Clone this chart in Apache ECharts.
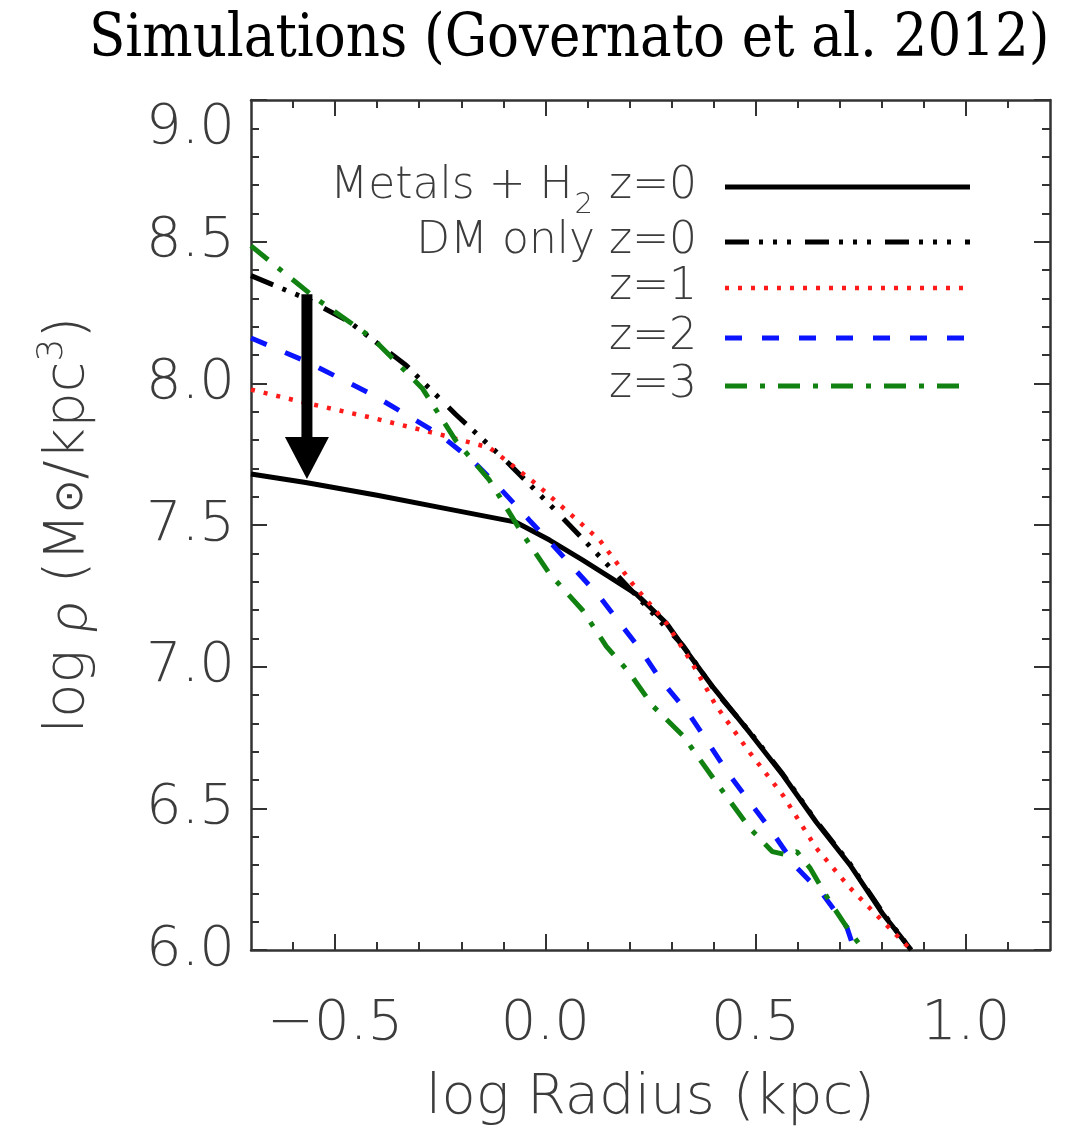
<!DOCTYPE html>
<html>
<head>
<meta charset="utf-8">
<script src="https://cdn.jsdelivr.net/npm/echarts@6/dist/echarts.min.js"></script>
<style>
  html, body { margin: 0; padding: 0; background: #fff; }
  #chart { width: 1075px; height: 1131px; }
</style>
</head>
<body>
<div id="chart"></div>
<script>
// Density profiles: log radius (kpc) vs log density (Msun / kpc^3)

const metalsR   = [-0.7, -0.57, -0.4, -0.23, -0.07, 0.01, 0.088, 0.152, 0.217, 0.288, 0.327, 0.4, 0.486, 0.565, 0.644, 0.724, 0.803, 0.87];
const metalsRho = [7.68, 7.65, 7.605, 7.556, 7.51, 7.447, 7.377, 7.317, 7.255, 7.153, 7.072, 6.925, 6.767, 6.617, 6.452, 6.301, 6.126, 6.0];

const dmR   = [-0.7, -0.57, -0.467, -0.332, -0.213, -0.094, 0.025, 0.152, 0.248, 0.327, 0.406, 0.486, 0.565, 0.644, 0.724, 0.803, 0.87];
const dmRho = [8.38, 8.30, 8.218, 8.065, 7.89, 7.727, 7.55, 7.353, 7.20, 7.075, 6.91, 6.77, 6.62, 6.455, 6.305, 6.13, 6.0];

const z1R   = [-0.7, -0.57, -0.411, -0.252, -0.133, -0.022, 0.049, 0.129, 0.207, 0.288, 0.35, 0.406, 0.486, 0.565, 0.644, 0.724, 0.803, 0.87];
const z1Rho = [7.978, 7.931, 7.878, 7.82, 7.773, 7.645, 7.552, 7.447, 7.293, 7.153, 7.01, 6.862, 6.697, 6.546, 6.36, 6.22, 6.10, 6.0];

const z2R   = [-0.7, -0.57, -0.411, -0.252, -0.173, -0.11, -0.038, 0.017, 0.129, 0.231, 0.271, 0.343, 0.438, 0.533, 0.598, 0.66, 0.717, 0.735];
const z2Rho = [8.16, 8.078, 7.96, 7.82, 7.727, 7.633, 7.517, 7.43, 7.247, 7.05, 6.96, 6.83, 6.617, 6.43, 6.29, 6.196, 6.08, 6.0];

const z3R   = [-0.7, -0.546, -0.411, -0.293, -0.213, -0.133, -0.054, 0.01, 0.088, 0.145, 0.2, 0.255, 0.327, 0.406, 0.486, 0.54, 0.573, 0.598, 0.629, 0.676, 0.717, 0.757];
const z3Rho = [8.485, 8.30, 8.159, 7.983, 7.798, 7.658, 7.468, 7.328, 7.2, 7.072, 6.978, 6.862, 6.757, 6.592, 6.43, 6.347, 6.336, 6.347, 6.29, 6.171, 6.08, 6.0];

// Arrow marking the drop of the central density: [log r, start, end]
const arrowData = [[-0.567, 8.314, 7.662]];

// Axis ticks
const xMajorTicks = [-0.5, 0.0, 0.5, 1.0];
const xMinorTicks = [-0.6, -0.4, -0.3, -0.2, -0.1, 0.1, 0.2, 0.3, 0.4, 0.6, 0.7, 0.8, 0.9, 1.1];
const xRange = [-0.7, 1.2];
const yRange = [6.0, 9.0];

// Legend rows
const legendNames = ['Metals + H2 z=0', 'DM only z=0', 'z=1', 'z=2', 'z=3'];

const FONT = "'DejaVu Sans', 'Noto Sans', sans-serif";
const TXT = '#3c3c3c';
const AXIS = '#333';

function zip(xs, ys) { return xs.map((x, i) => [x, ys[i]]); }

const lineDefs = [
  { name: legendNames[0], data: zip(metalsR, metalsRho), color: '#000', width: 5, type: 'solid' },
  { name: legendNames[1], data: zip(dmR, dmRho), color: '#000', width: 5, type: [24, 10, 4, 10, 4, 10, 4, 14] },
  { name: legendNames[2], data: zip(z1R, z1Rho), color: '#ff1a1a', width: 4.5, type: [4, 9] },
  { name: legendNames[3], data: zip(z2R, z2Rho), color: '#0a14ff', width: 5, type: [17, 20] },
  { name: legendNames[4], data: zip(z3R, z3Rho), color: '#118211', width: 5, type: [22, 13, 5, 13] }
];

function xAxisDef(position, ticks, len, withLine, withLabels) {
  return {
    type: 'value', position: position, min: xRange[0], max: xRange[1],
    axisLine: { show: withLine, onZero: false, lineStyle: { color: AXIS, width: 2.5 } },
    axisTick: { show: true, inside: true, length: len, customValues: ticks, lineStyle: { color: AXIS, width: 2 } },
    axisLabel: withLabels ? {
      show: true, customValues: ticks, margin: 46,
      formatter: v => (v < 0 ? '\u2212' : '') + Math.abs(v).toFixed(1),
      fontFamily: FONT, fontSize: 56, fontWeight: 200, color: TXT
    } : { show: false },
    splitLine: { show: false }
  };
}

function yAxisDef(position, withLabels) {
  return {
    type: 'value', position: position, min: yRange[0], max: yRange[1], interval: 0.5,
    axisLine: { show: true, onZero: false, lineStyle: { color: AXIS, width: 2.5 } },
    axisTick: { show: true, inside: true, length: 16, lineStyle: { color: AXIS, width: 2 } },
    minorTick: { show: true, splitNumber: 5, length: 8, lineStyle: { color: AXIS, width: 2 } },
    axisLabel: withLabels ? {
      show: true, margin: 16, formatter: v => v.toFixed(1),
      verticalAlignMaxLabel: 'top',
      fontFamily: FONT, fontSize: 56, fontWeight: 200, color: TXT
    } : { show: false },
    splitLine: { show: false }
  };
}

const xAxes = [
  xAxisDef('bottom', xMajorTicks, 16, true, true),
  xAxisDef('bottom', xMinorTicks, 8, false, false),
  xAxisDef('top', xMajorTicks, 16, true, false),
  xAxisDef('top', xMinorTicks, 8, false, false)
];
xAxes[0].name = 'log Radius (kpc)';
xAxes[0].nameLocation = 'middle';
xAxes[0].nameGap = 120;
xAxes[0].nameTextStyle = { fontFamily: FONT, fontSize: 56, fontWeight: 200, color: TXT };

const yAxes = [yAxisDef('left', true), yAxisDef('right', false)];
yAxes[0].name = '{a|log }{r|\u03C1}{a| (M}{o|\u2299}{a|/kpc}{s|3}{a|)}';
yAxes[0].nameLocation = 'middle';
yAxes[0].nameRotate = 90;
yAxes[0].nameGap = 150;
yAxes[0].nameTextStyle = {
  fontFamily: FONT, fontSize: 56, fontWeight: 200, color: TXT,
  rich: {
    a: { fontFamily: FONT, fontSize: 56, fontWeight: 200, color: TXT },
    r: { fontFamily: "Lato, 'Noto Sans', 'DejaVu Sans', sans-serif", fontSize: 60, fontWeight: 300, fontStyle: 'italic', color: TXT },
    o: { fontFamily: FONT, fontSize: 40, fontWeight: 200, color: TXT, padding: [8, 0, 0, 0] },
    s: { fontFamily: FONT, fontSize: 36, fontWeight: 200, color: TXT, padding: [0, 0, 30, 0] }
  }
};

const series = lineDefs.map(d => ({
  type: 'line', name: d.name, data: d.data, xAxisIndex: 0, yAxisIndex: 0,
  showSymbol: false, smooth: false, clip: true,
  lineStyle: { color: d.color, width: d.width, type: d.type, cap: 'butt' },
  z: 2
}));

series.push({
  type: 'custom', name: 'arrow', xAxisIndex: 0, yAxisIndex: 0,
  data: arrowData, encode: { x: 0, y: [1, 2] }, z: 5,
  renderItem: function (params, api) {
    const top = api.coord([api.value(0), api.value(1)]);
    const tip = api.coord([api.value(0), api.value(2)]);
    const headLen = 42, headHalf = 22, shaftHalf = 5.5;
    const cx = top[0];
    return {
      type: 'group',
      children: [
        { type: 'rect', shape: { x: cx - shaftHalf, y: top[1], width: shaftHalf * 2, height: tip[1] - headLen - top[1] + 1 }, style: { fill: '#000' } },
        { type: 'polygon', shape: { points: [[cx - headHalf, tip[1] - headLen], [cx + headHalf, tip[1] - headLen], [cx, tip[1]]] }, style: { fill: '#000' } }
      ]
    };
  }
});

// Legend drawn as text + sample line rows
const legendY = [187, 242, 288, 338, 386];
const legendText = [
  '{a|Metals + H}{s|2}{a| z=0}',
  '{a|DM only z=0}',
  '{a|z=1}',
  '{a|z=2}',
  '{a|z=3}'
];
const graphics = [];
lineDefs.forEach((d, i) => {
  graphics.push({
    type: 'text', x: 697, y: legendY[i], z: 10,
    style: {
      text: legendText[i], align: 'right', verticalAlign: 'middle',
      fontFamily: FONT, fontSize: 44, fontWeight: 200, fill: TXT,
      rich: {
        a: { fontFamily: FONT, fontSize: 44, fontWeight: 200, fill: TXT, color: TXT },
        s: { fontFamily: FONT, fontSize: 29, fontWeight: 200, fill: TXT, color: TXT, padding: [36, 2, 0, 2] }
      }
    }
  });
  graphics.push({
    type: 'line', z: 10,
    shape: { x1: 725, y1: legendY[i], x2: 970, y2: legendY[i] },
    style: { stroke: d.color, lineWidth: d.width, lineDash: d.type === 'solid' ? null : d.type, lineCap: 'butt' }
  });
});

const chart = echarts.init(document.getElementById('chart'), null, { renderer: 'canvas' });
chart.setOption({
  animation: false,
  backgroundColor: '#fff',
  title: {
    text: 'Simulations (Governato et al. 2012)',
    left: 84, top: 6,
    textStyle: { fontFamily: "'DejaVu Serif Condensed', 'DejaVu Serif', serif", fontSize: 59, fontWeight: 'normal', color: '#000' }
  },
  grid: { left: 251, right: 25, top: 100, bottom: 175, containLabel: false },
  xAxis: xAxes,
  yAxis: yAxes,
  series: series,
  graphic: graphics
});
</script>
</body>
</html>
